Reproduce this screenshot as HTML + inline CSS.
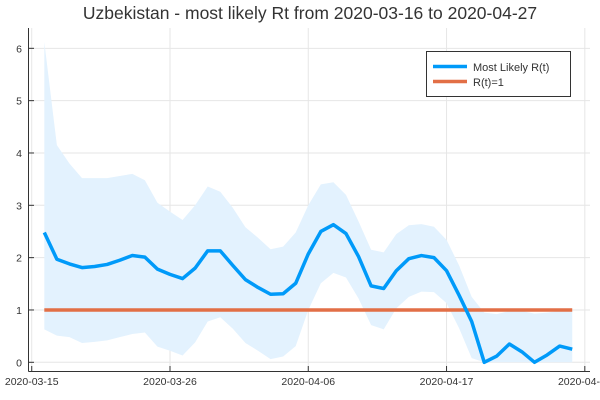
<!DOCTYPE html>
<html><head><meta charset="utf-8"><style>
body{margin:0;background:#fff}
svg{display:block;font-family:"Liberation Sans",sans-serif}
</style></head><body>
<svg id="chart" width="600" height="400">
<text x="310" y="19" text-anchor="middle" font-size="17.5" fill="#333">Uzbekistan - most likely Rt from 2020-03-16 to 2020-04-27</text>
<g id="grid"></g>
<g id="band"></g>
<g id="lines"></g>
<g id="axes"></g>
<g>
<rect x="426.5" y="51.5" width="144" height="45" fill="#fff" stroke="#333" stroke-width="1"/>
<line x1="433" y1="66.5" x2="467" y2="66.5" stroke="#009AF9" stroke-width="3.5"/>
<text x="473" y="71" font-size="11" fill="#333">Most Likely R(t)</text>
<line x1="433" y1="81.5" x2="467" y2="81.5" stroke="#E26F46" stroke-width="3.5"/>
<text x="473" y="86" font-size="11" fill="#333">R(t)=1</text>
</g>
</svg>
<script>
const rtMean=[2.48,1.97,1.88,1.81,1.83,1.87,1.95,2.04,2.01,1.78,1.68,1.60,1.80,2.13,2.13,1.85,1.58,1.43,1.30,1.31,1.51,2.07,2.50,2.63,2.46,2.02,1.46,1.41,1.75,1.98,2.04,2.0,1.75,1.28,0.78,0.0,0.12,0.35,0.2,0.0,0.14,0.31,0.25];
const rtUpper=[6.12,4.15,3.8,3.52,3.52,3.52,3.56,3.6,3.48,3.05,2.88,2.72,3.0,3.36,3.26,2.95,2.58,2.38,2.16,2.21,2.48,3.0,3.4,3.44,3.2,2.69,2.15,2.1,2.45,2.62,2.64,2.59,2.34,1.85,1.25,0.95,0.92,0.98,0.98,0.93,0.95,0.98,0.98];
const rtLower=[0.63,0.51,0.48,0.37,0.39,0.42,0.48,0.54,0.57,0.3,0.22,0.13,0.38,0.78,0.86,0.64,0.37,0.22,0.06,0.11,0.31,1.0,1.51,1.71,1.62,1.22,0.71,0.63,1.03,1.25,1.35,1.34,1.13,0.65,0.08,0,0,0,0,0,0,0,0];
const yTicks=[0,1,2,3,4,5,6];
const xTickLabels=["2020-03-15","2020-03-26","2020-04-06","2020-04-17","2020-04-28"];
const xTickDays=[-1,10,21,32,43];
const NS="http://www.w3.org/2000/svg";
const X=d=>44.3+12.57*d, Y=v=>362.3-52.33*v;
function mk(tag,attrs,parent){const e=document.createElementNS(NS,tag);for(const k in attrs)e.setAttribute(k,attrs[k]);parent.appendChild(e);return e;}
const grid=document.getElementById('grid'),axes=document.getElementById('axes');
yTicks.forEach(v=>{
 const l=mk('line',{x1:29,x2:590,y1:Y(v),y2:Y(v),stroke:'#e6e6e6','stroke-width':1},grid);
 
 
 mk('line',{x1:29,x2:34,y1:Y(v),y2:Y(v),stroke:'#333'},axes);
 const t=mk('text',{x:22,y:Y(v)+4,'text-anchor':'end','font-size':10.5,fill:'#333'},axes);
 t.textContent=v;
 
 
});
xTickDays.forEach((d,i)=>{
 const l=mk('line',{x1:X(d),x2:X(d),y1:28,y2:371,stroke:'#e6e6e6','stroke-width':1},grid);
 
 
 mk('line',{x1:X(d),x2:X(d),y1:366,y2:371,stroke:'#333'},axes);
 const t=mk('text',{x:X(d),y:385,'text-anchor':'middle','font-size':10.5,fill:'#333'},axes);
 t.textContent=xTickLabels[i];
 
 
});
mk('line',{x1:28.5,x2:28.5,y1:28,y2:371.5,stroke:'#333'},axes);
mk('line',{x1:28.5,x2:590,y1:371.5,y2:371.5,stroke:'#333'},axes);
let pts=rtUpper.map((v,i)=>X(i)+','+Y(v));
for(let i=rtLower.length-1;i>=0;i--)pts.push(X(i)+','+Y(rtLower[i]));
const band=mk('polygon',{points:pts.join(' '),fill:'#e3f2fe'},document.getElementById('band'));


const lines=document.getElementById('lines');
const one=mk('line',{x1:X(0),x2:X(rtMean.length-1),y1:Y(1),y2:Y(1),stroke:'#E26F46','stroke-width':3.5},lines);


const ml=mk('polyline',{points:rtMean.map((v,i)=>X(i)+','+Y(v)).join(' '),fill:'none',stroke:'#009AF9','stroke-width':3.5,'stroke-linejoin':'round'},lines);


</script>
</body></html>
